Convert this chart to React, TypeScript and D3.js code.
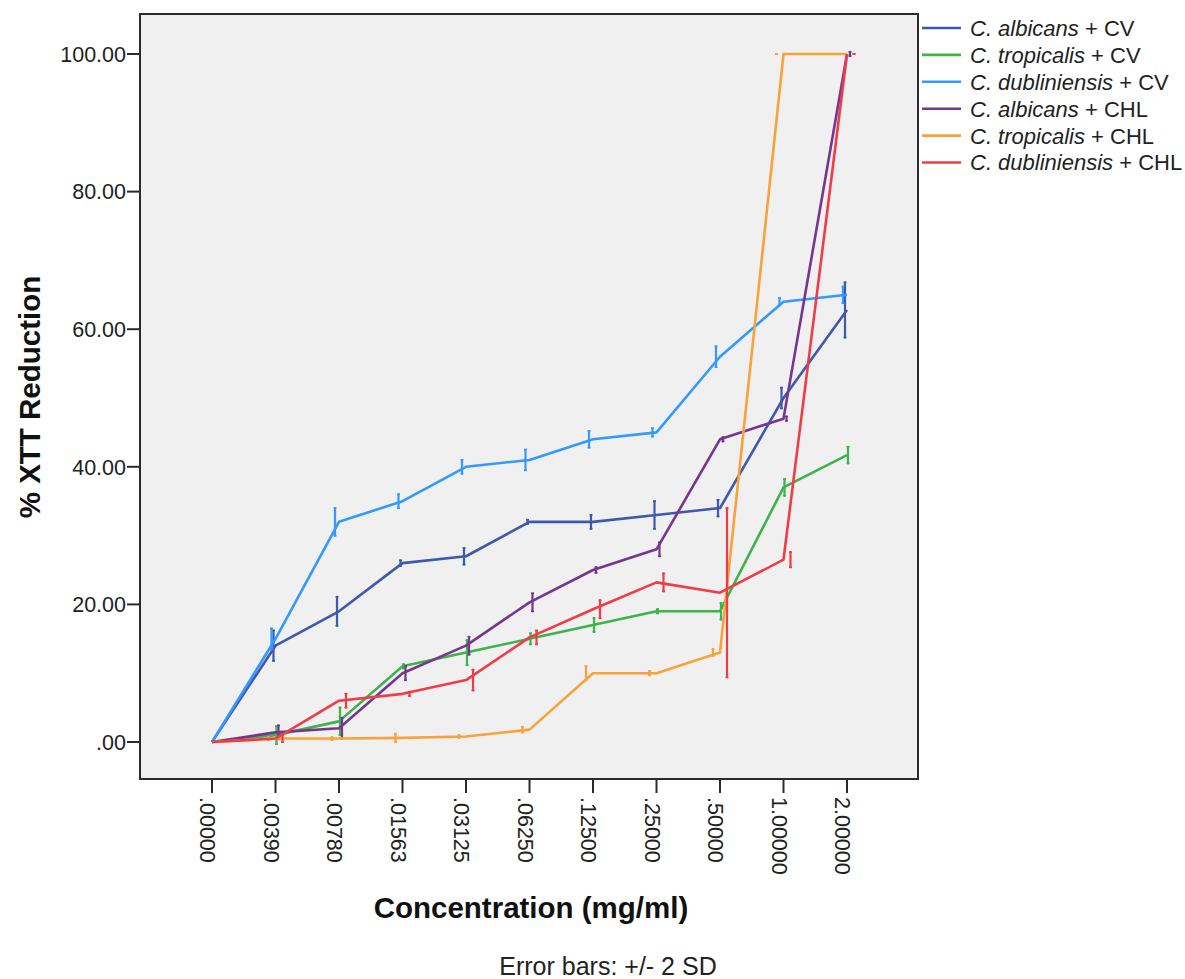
import React, { useEffect, useRef } from 'react';
import * as d3 from 'd3';

// concentrations (mg/ml), categorical x axis
const concentrations = ['.00000', '.00390', '.00780', '.01563', '.03125', '.06250', '.12500', '.25000', '.50000', '1.00000', '2.00000'];
const yTicks = [0, 20, 40, 60, 80, 100];

// mean % XTT reduction per series
const albicansCV = [0, 14, 19, 26, 27, 32, 32, 33, 34, 50, 62.8];
const tropicalisCV = [0, 1, 3, 11, 13, 15, 17, 19, 19, 37, 41.7];
const dubliniensisCV = [0, 15, 32, 35, 40, 41, 44, 45, 56, 64, 65];
const albicansCHL = [0, 1.4, 2, 10, 14, 20.3, 25, 28, 44, 47, 100];
const tropicalisCHL = [0, 0.5, 0.5, 0.6, 0.8, 1.8, 10, 10, 13, 100, 100];
const dubliniensisCHL = [0, 0.5, 6, 7, 9, 15.2, 19.3, 23.2, 21.7, 26.5, 100];

// +/- 2 SD
const albicansCVErr = [0, 2.2, 2.1, 0.4, 1.2, 0.3, 1, 2, 1.2, 1.5, 4];
const tropicalisCVErr = [0, 1.3, 2, 0.3, 1.8, 0.8, 1, 0.3, 1.2, 1.2, 1.2];
const dubliniensisCVErr = [0, 1.5, 2, 1, 1, 1.5, 1.2, 0.6, 1.5, 0.5, 1.2];
const albicansCHLErr = [0, 1, 1.5, 1, 1.3, 1.3, 0.4, 1, 0.3, 0.3, 0.3];
const tropicalisCHLErr = [0, 0.2, 0.2, 0.6, 0.2, 0.4, 1, 0.3, 0.5, 0, 0];
const dubliniensisCHLErr = [0, 0.5, 1, 0.3, 1.5, 1, 1.3, 1.3, 12.3, 1.1, 0];

const species = ['C. albicans', 'C. tropicalis', 'C. dubliniensis', 'C. albicans', 'C. tropicalis', 'C. dubliniensis'];
const drugs = ['CV', 'CV', 'CV', 'CHL', 'CHL', 'CHL'];
const colors = ['#3e58ac', '#3cb44b', '#3399ff', '#76368f', '#faa23a', '#f03c46'];
const barOffsets = [-2, 1, -4, 3, -7, 7];

const FONT = 'Liberation Sans, Arial, sans-serif';

const App = () => {
  const svgRef = useRef<SVGSVGElement>(null);

  useEffect(() => {
    const width = 1185;
    const height = 979;
    const left = 140;
    const right = 918;
    const top = 14;
    const bottom = 779;

    const svg = d3.select(svgRef.current).attr('width', width).attr('height', height);
    svg.selectAll('*').remove();

    const means = [albicansCV, tropicalisCV, dubliniensisCV, albicansCHL, tropicalisCHL, dubliniensisCHL];
    const errs = [albicansCVErr, tropicalisCVErr, dubliniensisCVErr, albicansCHLErr, tropicalisCHLErr, dubliniensisCHLErr];

    const x = d3.scalePoint<string>().domain(concentrations).range([left + 72, right - 71]);
    const y = d3.scaleLinear().domain([0, 100]).range([742, 54]);

    // plot frame
    svg
      .append('rect')
      .attr('x', left)
      .attr('y', top)
      .attr('width', right - left)
      .attr('height', bottom - top)
      .attr('fill', '#f0f0f0')
      .attr('stroke', '#2b2b2b')
      .attr('stroke-width', 2);

    // y axis
    const yAxis = svg.append('g');
    yTicks.forEach(t => {
      yAxis
        .append('line')
        .attr('x1', left - 13)
        .attr('x2', left)
        .attr('y1', y(t))
        .attr('y2', y(t))
        .attr('stroke', '#2b2b2b')
        .attr('stroke-width', 2);
      yAxis
        .append('text')
        .attr('x', left - 14)
        .attr('y', y(t))
        .attr('dy', '0.36em')
        .attr('text-anchor', 'end')
        .attr('font-family', FONT)
        .attr('font-size', 21.5)
        .attr('fill', '#222')
        .text(t === 0 ? '.00' : t.toFixed(2));
    });

    // x axis
    const xAxis = svg.append('g');
    concentrations.forEach(c => {
      const px = x(c)!;
      xAxis
        .append('line')
        .attr('x1', px)
        .attr('x2', px)
        .attr('y1', bottom)
        .attr('y2', bottom + 14)
        .attr('stroke', '#2b2b2b')
        .attr('stroke-width', 2);
      xAxis
        .append('text')
        .attr('transform', `translate(${px},${bottom + 18}) rotate(90)`)
        .attr('dy', '0.55em')
        .attr('font-family', FONT)
        .attr('font-size', 21.5)
        .attr('fill', '#222')
        .text(c);
    });

    // titles
    svg
      .append('text')
      .attr('transform', `translate(${40},${397}) rotate(-90)`)
      .attr('text-anchor', 'middle')
      .attr('font-family', FONT)
      .attr('font-weight', 'bold')
      .attr('font-size', 29.5)
      .attr('fill', '#111')
      .text('% XTT Reduction');

    svg
      .append('text')
      .attr('x', 531)
      .attr('y', 918)
      .attr('text-anchor', 'middle')
      .attr('font-family', FONT)
      .attr('font-weight', 'bold')
      .attr('font-size', 29.5)
      .attr('fill', '#111')
      .text('Concentration (mg/ml)');

    svg
      .append('text')
      .attr('x', 608)
      .attr('y', 975)
      .attr('text-anchor', 'middle')
      .attr('font-family', FONT)
      .attr('font-size', 25)
      .attr('fill', '#222')
      .text('Error bars: +/- 2 SD');

    // series lines + error bars
    const line = d3
      .line<number>()
      .x((d, i) => x(concentrations[i])!)
      .y(d => y(d));

    means.forEach((vals, s) => {
      const g = svg.append('g');
      g.append('path')
        .attr('d', line(vals))
        .attr('fill', 'none')
        .attr('stroke', colors[s])
        .attr('stroke-width', 2.6)
        .attr('stroke-linejoin', 'round');

      vals.forEach((v, i) => {
        const bx = x(concentrations[i])! + barOffsets[s];
        const e = errs[s][i];
        if (i === 0) return;
        g.append('line')
          .attr('x1', bx)
          .attr('x2', bx)
          .attr('y1', y(v - e) + 1)
          .attr('y2', y(v + e) - 1)
          .attr('stroke', colors[s])
          .attr('stroke-width', 2.2);
        [v - e, v + e].forEach(end => {
          g.append('line')
            .attr('x1', bx - 1.5)
            .attr('x2', bx + 1.5)
            .attr('y1', y(end))
            .attr('y2', y(end))
            .attr('stroke', colors[s])
            .attr('stroke-width', 1.5);
        });
      });
    });

    // legend
    const legend = svg.append('g');
    species.forEach((sp, i) => {
      const ly = 28 + i * 26.9;
      legend
        .append('line')
        .attr('x1', 922)
        .attr('x2', 961)
        .attr('y1', ly)
        .attr('y2', ly)
        .attr('stroke', colors[i])
        .attr('stroke-width', 2.6);
      const t = legend
        .append('text')
        .attr('x', 970)
        .attr('y', ly)
        .attr('dy', '0.36em')
        .attr('font-family', FONT)
        .attr('font-size', 22)
        .attr('fill', '#222');
      t.append('tspan').attr('font-style', 'italic').text(sp);
      t.append('tspan').text(` + ${drugs[i]}`);
    });
  }, []);

  return (
    <div style={{ position: 'absolute', left: 0, top: 0, background: '#fff' }}>
      <svg ref={svgRef}></svg>
    </div>
  );
};

export default App;
